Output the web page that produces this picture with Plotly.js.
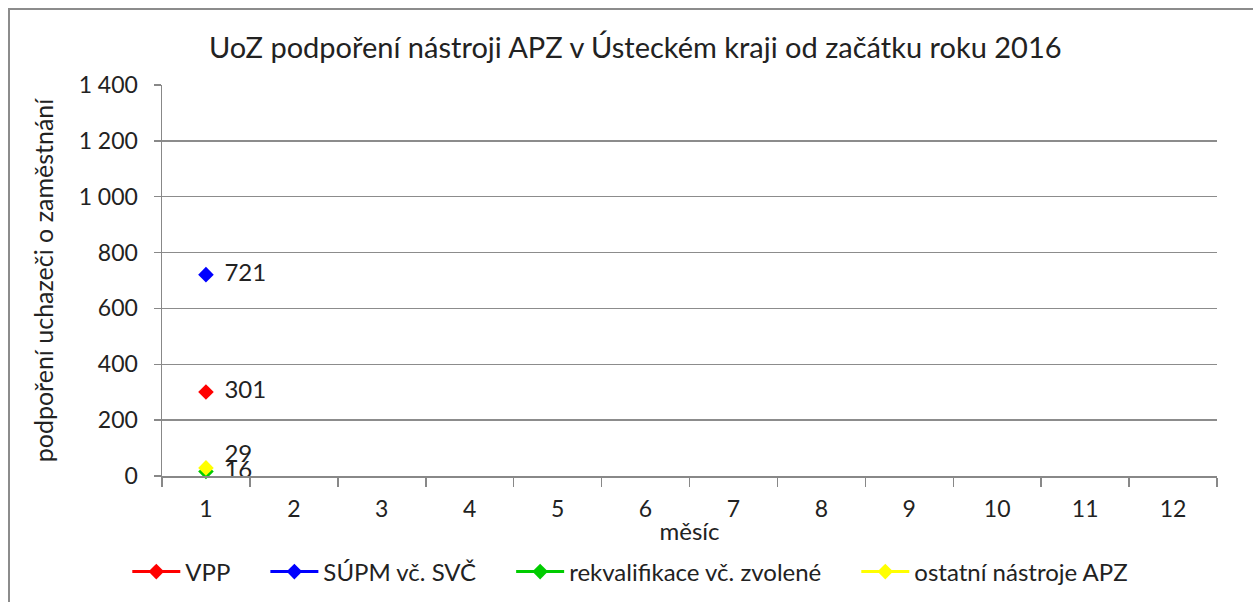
<!DOCTYPE html>
<html><head><meta charset="utf-8">
<script src="https://cdn.plot.ly/plotly-3.0.1.min.js"></script>
<style>
html,body{margin:0;padding:0;background:#fff;}
#frame{position:absolute;left:8px;top:8px;width:1260px;height:600px;border:2px solid #8c8c8c;box-sizing:border-box;}
#chart{position:absolute;left:0;top:0;width:1253px;height:602px;}
</style></head>
<body><div id="frame"></div><div id="chart"></div>
<script>
const months = [1,2,3,4,5,6,7,8,9,10,11,12];
const seriesNames = ['VPP','SÚPM vč. SVČ','rekvalifikace vč. zvolené','ostatní nástroje APZ'];
const seriesColors = ['#ff0000','#0000ff','#00cc00','#ffff00'];
const vpp = [301];
const supm = [721];
const rekval = [16];
const ostatni = [29];
const yTicks = [0,200,400,600,800,1000,1200,1400];
const labelPos = ['middle right','middle right','middle right','top right'];

const allSeries = [vpp, supm, rekval, ostatni];
const traces = [];
allSeries.forEach((vals, i) => {
  const xs = months.slice(0, vals.length);
  traces.push({
    x: xs, y: vals, name: seriesNames[i] + '\u2003\u2002', type: 'scatter', mode: 'lines+markers',
    line: {color: seriesColors[i], width: 3},
    marker: {symbol: 'diamond', size: 12, color: seriesColors[i]},
    cliponaxis: false, hoverinfo: 'x+y'
  });
});
allSeries.forEach((vals, i) => {
  const xs = months.slice(0, vals.length);
  traces.push({
    x: xs, y: vals, type: 'scatter', mode: 'text', showlegend: false,
    text: vals.map(v => '   ' + v), textposition: labelPos[i],
    textfont: {size: 24, color: '#222', family: 'Lato, sans-serif'},
    cliponaxis: false, hoverinfo: 'skip'
  });
});

const boundaries = months.map(m => m - 0.5).concat([months[months.length-1] + 0.5]);

const layout = {
  width: 1253, height: 602,
  paper_bgcolor: 'rgba(0,0,0,0)', plot_bgcolor: 'rgba(0,0,0,0)',
  separators: ', ',
  font: {family: 'Lato, sans-serif', color: '#222', size: 23},
  margin: {l: 162, r: 36, t: 85, b: 126},
  title: {text: 'UoZ podpoření nástroji APZ v Ústeckém kraji od začátku roku 2016',
          font: {size: 29, color: '#222'}, x: 0.507, xanchor: 'center', y: 1 - 48/602, yanchor: 'middle'},
  xaxis: {
    range: [0.5, 12.5], tickvals: months, ticktext: months.map(String),
    ticks: '', showgrid: false, zeroline: false,
    showline: true, linecolor: '#888', linewidth: 1.5,
    tickfont: {size: 23}, ticklabelstandoff: 12,
    minor: {tickvals: boundaries, ticks: 'outside', ticklen: 9, tickcolor: '#888', tickwidth: 1.5, showgrid: false},
    title: {text: 'měsíc', font: {size: 24}, standoff: 2}
  },
  yaxis: {
    range: [0, 1400], tickvals: yTicks, separatethousands: true, tickformat: ',d',
    ticks: 'outside', ticklen: 7, tickcolor: '#888', tickwidth: 1.5,
    showgrid: true, gridcolor: '#8c8c8c', gridwidth: 1.5, zeroline: false,
    showline: true, linecolor: '#888', linewidth: 1.5,
    tickfont: {size: 23}, ticklabelstandoff: 11,
    title: {text: 'podpoření uchazeči o zaměstnání', font: {size: 25}, standoff: 18}
  },
  legend: {orientation: 'h', xref: 'container', yref: 'container', x: 0.515, xanchor: 'center',
           y: 1 - 572/602, yanchor: 'middle', font: {size: 24}, itemwidth: 48, tracegroupgap: 0},
  showlegend: true
};
Plotly.newPlot('chart', traces, layout, {displayModeBar: false, staticPlot: true});
</script></body></html>
